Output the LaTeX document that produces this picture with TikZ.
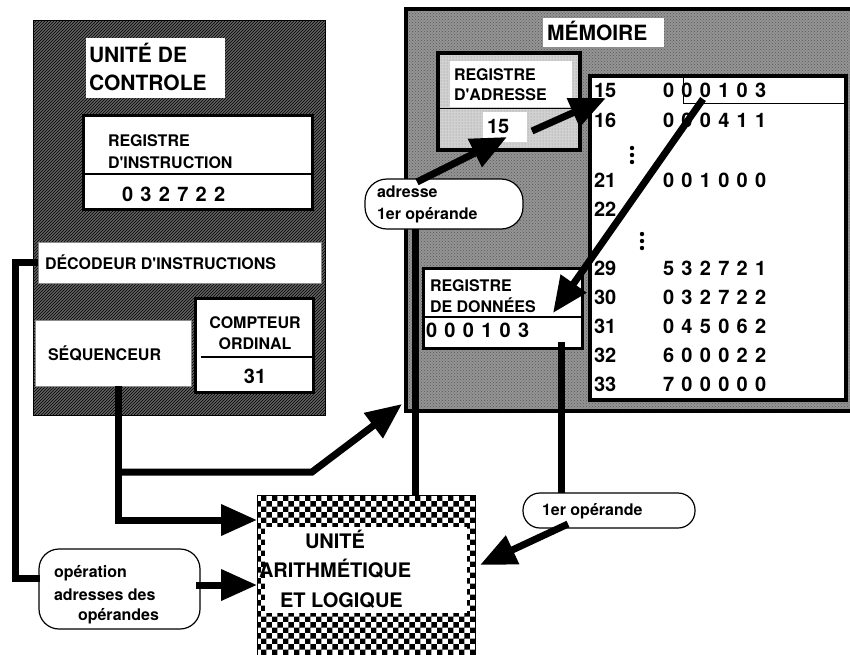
\documentclass[tikz,border=0pt]{standalone}
\usepackage{fontspec}
\setmainfont{TeX Gyre Heros}[Ligatures=TeXOff]
\usetikzlibrary{patterns,arrows.meta,calc}
\newcommand\fsm{\fontsize{16}{19}\selectfont\bfseries}
\newcommand\flg{\fontsize{21}{25}\selectfont\bfseries}
\newcommand\falu{\fontsize{20}{24}\selectfont\bfseries}
\newcommand\fdg{\fontsize{20}{24}\selectfont\bfseries\spaceskip=7.3pt\relax}
\newcommand\fnum{\fontsize{20}{24}\selectfont\bfseries}
\begin{document}
\begin{tikzpicture}[x=1pt,y=-1pt,
  box/.style={anchor=north west, inner sep=0pt, outer sep=0pt},
  txt/.style={anchor=base west, inner sep=0pt, outer sep=0pt},
  ctxt/.style={anchor=base, inner sep=0pt, outer sep=0pt},
  thk/.style={draw, line width=3pt, fill=white},
  thin/.style={draw=black!45, line width=1pt, fill=white},
  bubble/.style={box, draw, line width=1.2pt, fill=white},
  conn/.style={line width=7pt},
  arr/.style={line width=7pt, -{Triangle[length=36pt,width=30pt]}},
  dot/.style={fill=black}]
\useasboundingbox (0,0) rectangle (850,654);

% ---------------- MEMOIRE ----------------
\node (mem) [box, minimum width=447pt, minimum height=402pt, draw, line width=4pt,
  preaction={fill=black!42}, pattern=crosshatch dots, pattern color=black!65] at (406,9) {};
\node (memtitle) [box, fill=white, minimum width=121pt, minimum height=29pt] at (543,18) {};
\node (memtxt) [txt] at (547,40) {\flg MÉMOIRE};

% registre d'adresse
\node (ra) [box, minimum width=142pt, minimum height=97pt, draw, line width=4pt,
  preaction={fill=black!18}, pattern=dots, pattern color=black!45] at (438,53) {};
\node (rawhite) [box, fill=white, minimum width=122pt, minimum height=46pt] at (450,61) {};
\draw[line width=1pt] (438,108) -- (580,108);
\node (ra15box) [box, fill=white, minimum width=44pt, minimum height=30pt] at (483,112) {};
\node (ratxt1) [txt] at (454,80) {\fsm REGISTRE};
\node (ratxt2) [txt] at (454,100) {\fsm D'ADRESSE};
\node (ra15) [txt] at (487,133) {\fnum 15};

% table
\node (tab) [box, draw, line width=4pt, fill=white, minimum width=256pt, minimum height=324pt] at (590,76) {};
\draw[line width=1pt] (683,76) -- (683,103) -- (846,103);
\node (n15) [txt] at (594,97) {\fnum 15};   \node (v15) [txt] at (663,97) {\fdg 0 0 0 1 0 3};
\node (n16) [txt] at (594,127) {\fnum 16};  \node (v16) [txt] at (663,127) {\fdg 0 0 0 4 1 1};
\node (n21) [txt] at (594,187) {\fnum 21};  \node (v21) [txt] at (663,187) {\fdg 0 0 1 0 0 0};
\node (n22) [txt] at (594,216) {\fnum 22};
\node (n29) [txt] at (594,275) {\fnum 29};  \node (v29) [txt] at (663,275) {\fdg 5 3 2 7 2 1};
\node (n30) [txt] at (594,304) {\fnum 30};  \node (v30) [txt] at (663,304) {\fdg 0 3 2 7 2 2};
\node (n31) [txt] at (594,333) {\fnum 31};  \node (v31) [txt] at (663,333) {\fdg 0 4 5 0 6 2};
\node (n32) [txt] at (594,362) {\fnum 32};  \node (v32) [txt] at (663,362) {\fdg 6 0 0 0 2 2};
\node (n33) [txt] at (594,391) {\fnum 33};  \node (v33) [txt] at (663,391) {\fdg 7 0 0 0 0 0};
\fill[dot] (632,148) circle (2.2pt) (632,155) circle (2.2pt) (632,162) circle (2.2pt);
\fill[dot] (642,234) circle (2.2pt) (642,241) circle (2.2pt) (642,248) circle (2.2pt);

% registre de donnees
\node (rd) [box, thk, minimum width=159pt, minimum height=80pt] at (423,268) {};
\draw[line width=1.5pt] (423,317) -- (582,317);
\node (rdtxt1) [txt] at (430,291) {\fsm REGISTRE};
\node (rdtxt2) [txt] at (430,312) {\fsm DE DONNÉES};
\node (rdval) [txt] at (426,337) {\fdg 0 0 0 1 0 3};

% callout adresse
\node (ca) [bubble, rounded corners=22pt, minimum width=158pt, minimum height=50pt] at (365,179) {};
\node (catxt1) [txt] at (377,197) {\fsm adresse};
\node (catxt2) [txt] at (377,219) {\fsm 1er opérande};

% ---------------- UNITE DE CONTROLE ----------------
\node (cu) [box, draw, line width=1pt, preaction={fill=black!62}, pattern=north east lines,
  pattern color=black, minimum width=292pt, minimum height=395pt] at (33,20) {};
\node (cutitle) [box, fill=white, minimum width=139pt, minimum height=60pt] at (86,38) {};
\node (cutxt1) [txt] at (89,62) {\flg UNITÉ DE};
\node (cutxt2) [txt] at (89,90) {\flg CONTROLE};

\node (ri) [box, thk, minimum width=229pt, minimum height=94pt] at (83,115) {};
\draw[line width=2pt] (83,174) -- (312,174);
\node (ritxt1) [txt] at (108,146) {\fsm REGISTRE};
\node (ritxt2) [txt] at (108,168) {\fsm D'INSTRUCTION};
\node (rival) [txt] at (122,201) {\fdg 0 3 2 7 2 2};

\node (dec) [box, thin, minimum width=283pt, minimum height=41pt] at (38,242) {};
\node (dectxt) [txt] at (45,269) {\fsm DÉCODEUR D'INSTRUCTIONS};

\node (seq) [box, thin, minimum width=156pt, minimum height=66pt] at (35,320) {};
\node (seqtxt) [txt] at (48,360) {\fsm SÉQUENCEUR};

\node (co) [box, thk, minimum width=118pt, minimum height=94pt] at (195,298) {};
\node (cotxt1) [ctxt] at (255,328) {\fsm COMPTEUR};
\node (cotxt2) [ctxt] at (255,349) {\fsm ORDINAL};
\draw[line width=1.5pt] (201,357) -- (313,357);
\node (coval) [ctxt] at (255,383) {\fnum 31};

% ---------------- UAL ----------------
\node (alu) [box, draw, line width=1pt, preaction={fill=white}, pattern=checkerboard,
  minimum width=218pt, minimum height=170pt] at (257,495) {};
\node (aluwhite) [box, fill=white, minimum width=202pt, minimum height=86pt] at (265,527) {};
\node (alutxt1) [txt] at (305,548) {\falu UNITÉ};
\node (alutxt2) [txt] at (259,577) {\falu ARITHMÉTIQUE};
\node (alutxt3) [txt] at (280,607) {\falu ET LOGIQUE};

% callouts bottom
\node (cop) [bubble, rounded corners=20pt, minimum width=161pt, minimum height=80pt] at (39,549) {};
\node (coptxt1) [txt] at (54,577) {\fsm opération};
\node (coptxt2) [txt] at (54,600) {\fsm adresses des};
\node (coptxt3) [txt] at (78,620) {\fsm opérandes};

\node (c1) [bubble, rounded corners=17pt, minimum width=172pt, minimum height=35pt] at (523,493) {};
\node (c1txt) [txt] at (542,515) {\fsm 1er opérande};

% ---------------- connectors ----------------
\coordinate (caOut) at (417,182);
\coordinate (ra15In) at (507,137);
\coordinate (ra15Out) at (532,131);
\coordinate (row15In) at (606,98);
\coordinate (row15Out) at (703,99);
\coordinate (rdIn) at (553,313);
\coordinate (seqOut) at (118,386);
\coordinate (seqBr) at (118,472);
\coordinate (seqCorner) at (118,520);
\coordinate (aluIn1) at (257,520);
\coordinate (seqBend) at (312,472);
\coordinate (memIn) at (402,404);
\coordinate (decOut) at (38,262);
\coordinate (decC1) at (15,262);
\coordinate (decC2) at (15,578);
\coordinate (copIn) at (40,578);
\coordinate (copOut) at (196,585);
\coordinate (aluIn2) at (257,585);
\coordinate (caBot) at (415,229);
\coordinate (aluTop) at (415,495);
\coordinate (rdOut) at (561,342);
\coordinate (c1Top) at (561,493);
\coordinate (c1Out) at (568,524);
\coordinate (aluIn3) at (480,565);

\draw[arr] (caOut) -- (ra15In);
\draw[arr] (ra15Out) -- (row15In);
\draw[arr] (row15Out) -- (rdIn);
\draw[arr] (seqOut) -- (seqCorner) -- (aluIn1);
\draw[arr] (seqBr) -- (seqBend) -- (memIn);
\draw[conn] (decOut) -- (decC1) -- (decC2) -- (copIn);
\draw[arr] (copOut) -- (aluIn2);
\draw[conn] (caBot) -- (aluTop);
\draw[conn] (rdOut) -- (c1Top);
\draw[arr] (c1Out) -- (aluIn3);
\end{tikzpicture}
\end{document}
